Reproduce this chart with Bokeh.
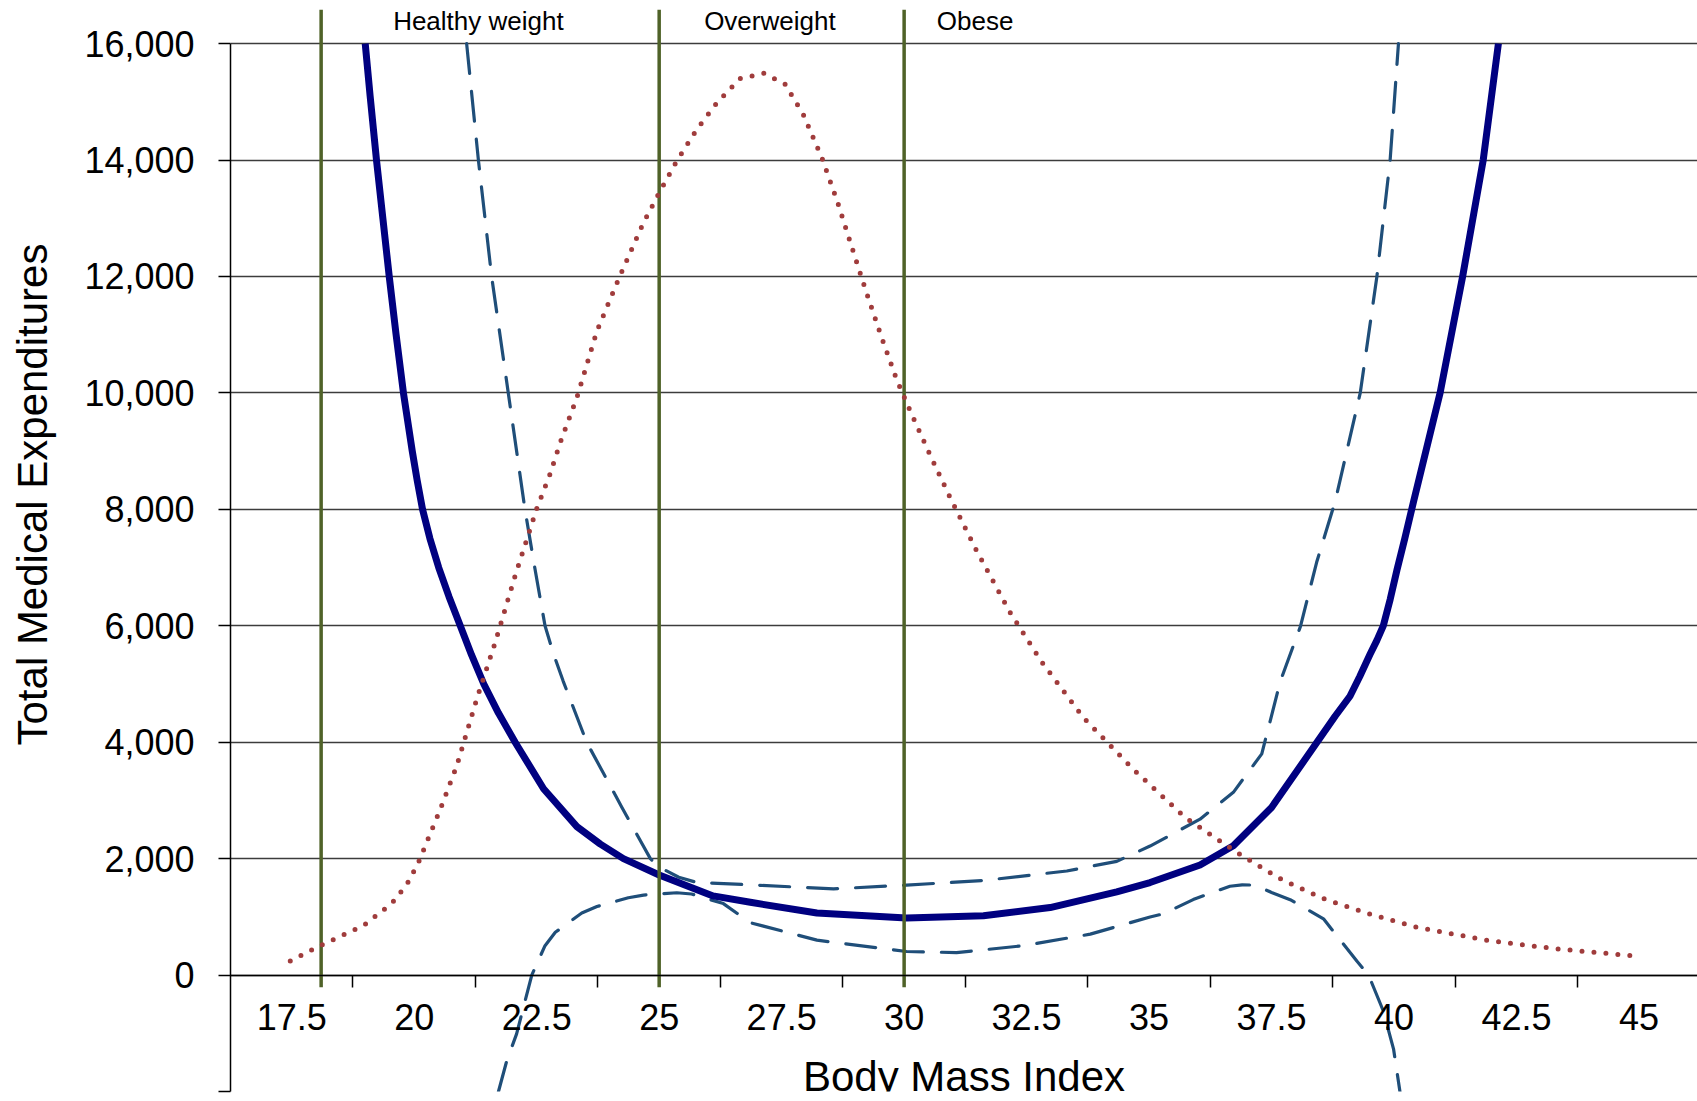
from bokeh.plotting import figure
from bokeh.models import (ColumnDataSource, FixedTicker, LinearAxis,
                          NumeralTickFormatter, Title, Range1d)
from bokeh.embed import file_html
from bokeh.resources import INLINE
from bokeh.core.properties import value

FONT = "Liberation Sans"

# ---------------- data ----------------
x_label_values = [17.5, 20, 22.5, 25, 27.5, 30, 32.5, 35, 37.5, 40, 42.5, 45]
x_tick_labels = ["17.5", "20", "22.5", "25", "27.5", "30", "32.5", "35",
                 "37.5", "40", "42.5", "45"]
x_tick_marks = [18.75, 21.25, 23.75, 26.25, 28.75, 31.25, 33.75, 36.25,
                38.75, 41.25, 43.75]
y_ticks = [-2000, 0, 2000, 4000, 6000, 8000, 10000, 12000, 14000, 16000]

category_names = ["Healthy weight", "Overweight", "Obese"]
category_bounds = [18.1, 25, 30]
label_x = [21.31, 27.26, 31.45]

# estimated total medical expenditures (solid)
solid_bmi = [19.0, 19.1, 19.23, 19.36, 19.49, 19.63, 19.78, 19.96, 20.06, 20.17,
             20.32, 20.5, 20.71, 20.94, 21.17, 21.42, 21.72, 22.06, 22.64, 23.32,
             23.8, 24.27, 25.0, 26.1, 26.86, 28.22, 30.05, 31.62, 32.98, 34.34,
             35.02, 36.04, 36.72, 37.5, 38.42, 38.8, 39.1, 39.3, 39.51, 39.65,
             39.78, 39.92, 40.06, 40.22, 40.4, 40.94, 41.4, 41.82, 42.13]
solid_cost = [16000, 15100, 14000, 13000, 12000, 11000, 10000, 9000, 8500, 8000,
              7500, 7000, 6500, 6000, 5500, 5000, 4500, 4000, 3200, 2550,
              2250, 2000, 1720, 1360, 1250, 1065, 980, 1020, 1160, 1430,
              1590, 1890, 2220, 2880, 3990, 4450, 4790, 5130, 5510, 5750,
              6000, 6450, 6960, 7500, 8140, 10000, 12000, 14000, 16000]

# upper confidence band (dashed)
upper_bmi = [21.07, 21.31, 21.58, 21.92, 22.26, 22.46, 22.67, 22.85, 23.04, 23.52,
             24.24, 24.82, 25.0, 25.4, 25.77, 26.86, 28.56, 30.05, 31.62, 33.32,
             34.34, 35.02, 36.04, 36.72, 37.3, 37.68, 38.09, 38.42, 38.8, 39.31,
             39.65, 39.92, 40.09]
upper_cost = [16000, 14000, 12000, 10000, 8000, 7000, 6000, 5500, 5050, 4000,
              2880, 2000, 1855, 1680, 1590, 1550, 1480, 1546, 1624, 1788,
              1953, 2216, 2678, 3139, 3800, 5050, 5990, 7090, 8140, 10000,
              12000, 14000, 16000]

# lower confidence band (dashed)
lower_bmi = [21.72, 21.89, 22.09, 22.4, 22.67, 22.88, 23.42, 23.73, 24.37, 24.68,
             25.36, 25.66, 26.31, 26.86, 28.22, 30.05, 31.07, 32.44, 33.8, 35.02,
             35.29, 35.9, 36.21, 36.65, 36.9, 37.15, 37.5, 37.88, 38.56, 39.24,
             39.48, 39.78, 39.99, 40.12]
lower_cost = [-2000, -1470, -1010, 0, 505, 735, 1065, 1177, 1328, 1374,
              1414, 1393, 1228, 900, 600, 405, 386, 505, 703, 998,
              1051, 1296, 1393, 1526, 1550, 1545, 1420, 1295, 966, 241,
              0, -615, -1271, -2000]

# BMI distribution (dotted)
dist_bmi = [17.47, 18.08, 18.96, 19.54, 19.85, 20.08, 20.32, 20.53, 20.87, 21.28,
            21.65, 22.06, 22.5, 22.77, 22.98, 23.32, 23.73, 24.2, 24.68, 25.02,
            25.36, 25.77, 26.18, 26.65, 27.14, 27.57, 27.94, 28.32, 28.64, 28.93,
            29.22, 29.53, 29.85, 30.14, 30.53, 30.94, 31.48, 32.16, 32.81, 33.66,
            34.68, 35.73, 36.89, 37.74, 38.61, 39.51, 40.46, 41.86, 43.29, 44.95]
dist_count = [240, 505, 847, 1228, 1558, 1921, 2414, 2843, 3599, 4752,
              5707, 6860, 8011, 8600, 9145, 9918, 11064, 12014, 12925, 13469,
              13985, 14529, 14986, 15400, 15491, 15302, 14787, 14041, 13280, 12512,
              11751, 10978, 10222, 9660, 8934, 8200, 7288, 6233, 5377, 4422,
              3533, 2711, 2053, 1624, 1295, 1045, 821, 603, 452, 326]

# ---------------- figure ----------------
p = figure(width=1697, height=1101,
           x_range=Range1d(16.25, 46.194), y_range=Range1d(-2000, 16741),
           output_backend="svg", toolbar_location=None,
           x_axis_location=None, y_axis_location="left",
           min_border_left=230, min_border_right=0,
           min_border_top=0, min_border_bottom=10)
p.title.visible = False
p.outline_line_color = None
p.background_fill_color = "white"
p.border_fill_color = "white"

# grid
p.xgrid.visible = False
p.ygrid.ticker = FixedTicker(ticks=[t for t in y_ticks if t >= 0])
p.ygrid.grid_line_color = "#3c3c3c"
p.ygrid.grid_line_width = 1.5

# y axis
ya = p.yaxis[0]
ya.ticker = FixedTicker(ticks=y_ticks)
ya.formatter = NumeralTickFormatter(format="0,0")
ya.major_label_overrides = {-2000: ""}
ya.bounds = (-2000, 16000)
ya.major_tick_out = 12
ya.major_tick_in = 0
ya.minor_tick_line_color = None
ya.major_label_standoff = 24
ya.major_label_text_font = FONT
ya.major_label_text_font_size = "36px"
ya.major_label_text_color = "black"
ya.axis_line_color = "black"
ya.axis_line_width = 1.5
ya.major_tick_line_color = "black"
ya.major_tick_line_width = 1.5
# blank spacer label between tick labels and the axis title
ya.axis_label = " "
ya.axis_label_text_font_size = "1px"
ya.axis_label_standoff = 22

ytitle = Title(text="Total Medical Expenditures", align="left", offset=346,
               vertical_align="bottom", standoff=0,
               text_font=FONT, text_font_size="42px", text_font_style="normal",
               text_color="black")
p.add_layout(ytitle, "left")

# x axis: tick marks (between categories) + axis line at y=0
xa_ticks = LinearAxis(ticker=FixedTicker(ticks=x_tick_marks), fixed_location=0,
                      major_tick_out=12, major_tick_in=0,
                      major_tick_line_color="black", major_tick_line_width=1.5,
                      minor_tick_line_color=None,
                      axis_line_color="black", axis_line_width=1.5,
                      major_label_text_color=None, major_label_text_font_size="36px")
p.add_layout(xa_ticks, "below")

# x axis: labels
xa_lab = LinearAxis(ticker=FixedTicker(ticks=x_label_values), fixed_location=0,
                    major_label_overrides=dict(zip(x_label_values, x_tick_labels)),
                    major_tick_out=12, major_tick_in=0,
                    major_tick_line_color=None, minor_tick_line_color=None,
                    axis_line_color=None,
                    major_label_standoff=17,
                    major_label_text_font=FONT, major_label_text_font_size="36px",
                    major_label_text_color="black",
                    axis_label="Body Mass Index", axis_label_standoff=19,
                    axis_label_text_font=FONT, axis_label_text_font_size="42px",
                    axis_label_text_font_style="normal",
                    axis_label_text_color="black")
p.add_layout(xa_lab, "below")

# curves
DASH_COLOR = "#1F4E79"
p.line(upper_bmi, upper_cost, line_color=DASH_COLOR, line_width=3.2,
       line_dash="30 18", line_cap="round", line_join="round")
p.line(lower_bmi, lower_cost, line_color=DASH_COLOR, line_width=3.2,
       line_dash="30 18", line_cap="round", line_join="round")
p.line(solid_bmi, solid_cost, line_color="#000080", line_width=7,
       line_join="round", line_cap="butt")

# BMI category boundaries
p.segment(x0=category_bounds, y0=-210, x1=category_bounds, y1=16580,
          line_color="#4F6228", line_width=3.5)

p.line(dist_bmi, dist_count, line_color="#A03C3C", line_width=5,
       line_dash="0 12", line_cap="round", line_join="round")

# category labels
src = ColumnDataSource(dict(x=label_x, y=[16390] * len(label_x), t=category_names))
p.text(x="x", y="y", text="t", source=src, text_font=value(FONT),
       text_font_size="26px", text_align="center", text_baseline="alphabetic",
       text_color="black")

open("out.html", "w").write(file_html(p, INLINE))
